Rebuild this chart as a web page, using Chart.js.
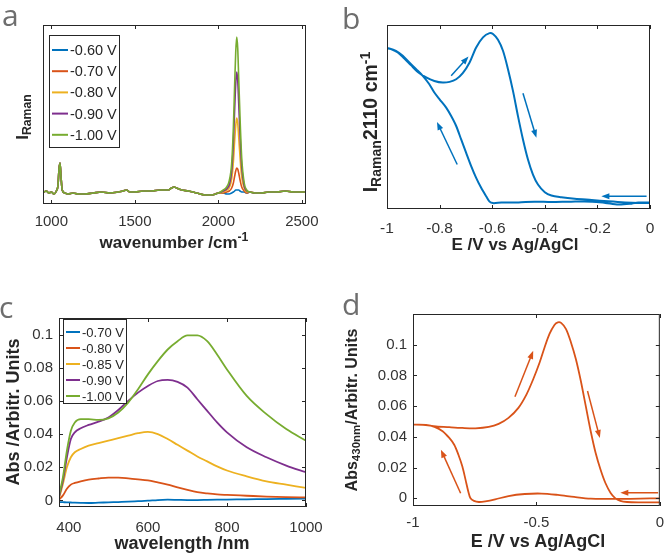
<!DOCTYPE html>
<html>
<head>
<meta charset="utf-8">
<script src="https://cdn.jsdelivr.net/npm/chart.js@4.4.1/dist/chart.umd.min.js"></script>
<style>
  body { margin: 0; background: #fff; }
  #fig { position: relative; width: 672px; height: 555px; overflow: hidden; font-family: "Liberation Sans", Arial, sans-serif; color: #262626; }
  canvas { position: absolute; }
  .lbl { position: absolute; font-family: "Open Sans", sans-serif; font-size: 30px; color: #6e6e6e; line-height: 1; }
  .ttl { position: absolute; font-weight: bold; white-space: nowrap; line-height: 1; transform: translate(-50%, -50%); }
  .ttl.rot { transform: translate(-50%, -50%) rotate(-90deg); }
  .ttl sub { font-size: 0.72em; vertical-align: -0.3em; line-height: 0; }
  .ttl sup { font-size: 0.72em; vertical-align: 0.5em; line-height: 0; }
</style>
</head>
<body>
<div id="fig">
  <canvas id="chartA" width="336" height="270" style="left:0;top:0"></canvas>
  <canvas id="chartB" width="336" height="270" style="left:336px;top:0"></canvas>
  <canvas id="chartC" width="336" height="265" style="left:0;top:290px"></canvas>
  <canvas id="chartD" width="336" height="265" style="left:336px;top:290px"></canvas>

  <div class="lbl" style="left:2px;top:0">a</div>
  <div class="lbl" style="left:342px;top:3px">b</div>
  <div class="lbl" style="left:-1px;top:292px">c</div>
  <div class="lbl" style="left:342px;top:289px">d</div>

  <div class="ttl" style="left:174px;top:242px;font-size:17px">wavenumber /cm<sup>-1</sup></div>
  <div class="ttl rot" style="left:22px;top:117px;font-size:17px">I<sub>Raman</sub></div>
  <div class="ttl" style="left:515px;top:244px;font-size:17px">E /V vs Ag/AgCl</div>
  <div class="ttl rot" style="left:371px;top:122px;font-size:19.5px">I<sub>Raman</sub>2110 cm<sup>-1</sup></div>
  <div class="ttl" style="left:182px;top:543px;font-size:18px">wavelength /nm</div>
  <div class="ttl rot" style="left:13px;top:412px;font-size:18px">Abs /Arbitr. Units</div>
  <div class="ttl" style="left:538px;top:541px;font-size:18px">E /V vs Ag/AgCl</div>
  <div class="ttl rot" style="left:352px;top:410px;font-size:16px">Abs<sub>430nm</sub>/Arbitr. Units</div>
</div>

<script>
// ---- panel a: Raman spectra ----
const aLabels = ['-0.60 V', '-0.70 V', '-0.80 V', '-0.90 V', '-1.00 V'];
const aWn = [955, 970, 985, 1000, 1015, 1030, 1040, 1046, 1052, 1058, 1065, 1080, 1100, 1130, 1160, 1200, 1250, 1300, 1350, 1400,
  1430, 1450, 1470, 1500, 1550, 1600, 1650, 1700, 1720, 1735, 1750, 1780, 1820, 1870, 1920, 1960, 2000,
  2030, 2050, 2065, 2080, 2090, 2098, 2104, 2110, 2116, 2122, 2130, 2140, 2155, 2170,
  2190, 2220, 2260, 2300, 2350, 2400, 2450, 2520];
const aI060 = [1, 2, 0, 1, -1, 2, 8, 24, 30, 16, 3, 0, -1, 0, -1, -1, 0, 1, 0, 1, 2, 3, 1, 1, 2, 2, 3, 3, 5, 6, 5, 3, 2, 0, -2, -2, 0,
  0, -1, -1, 0, 1, 2, 3, 3, 3, 3, 2, 1, 1, 0,
  1, 0, 0, 1, 1, 2, 1, 1];
const aI070 = [1, 2, 0, 1, -1, 2, 8, 24, 30, 16, 3, 0, -1, 0, -1, -1, 0, 1, 0, 1, 2, 3, 1, 1, 2, 2, 3, 3, 5, 6, 5, 3, 2, 0, -2, -2, 0,
  0, 1, 2, 5, 10, 17, 22, 25, 24, 20, 13, 6, 2, 0,
  1, 0, 0, 1, 1, 2, 1, 1];
const aI080 = [1, 2, 0, 1, -1, 2, 8, 24, 30, 16, 3, 0, -1, 0, -1, -1, 0, 1, 0, 1, 2, 3, 1, 1, 2, 2, 3, 3, 5, 6, 5, 3, 2, 0, -2, -2, 0,
  1, 3, 5, 14, 31, 53, 67, 75, 70, 56, 36, 16, 5, 1,
  1, 0, 0, 1, 1, 2, 1, 1];
const aI090 = [1, 2, 0, 1, -1, 2, 8, 24, 30, 16, 3, 0, -1, 0, -1, -1, 0, 1, 0, 1, 2, 3, 1, 1, 2, 2, 3, 3, 5, 6, 5, 3, 2, 0, -2, -2, 0,
  2, 4, 8, 22, 50, 85, 109, 121, 113, 90, 58, 26, 7, 2,
  1, 0, 0, 1, 1, 2, 1, 1];
const aI100 = [1, 2, 0, 1, -1, 2, 8, 24, 30, 16, 3, 0, -1, 0, -1, -1, 0, 1, 0, 1, 2, 3, 1, 1, 2, 2, 3, 3, 5, 6, 5, 3, 2, 0, -2, -2, 0,
  3, 6, 12, 30, 65, 110, 140, 156, 145, 115, 75, 35, 10, 3,
  1, 0, 0, 1, 1, 2, 1, 1];
const aXTicks = [1000, 1500, 2000, 2500];

// ---- panel b: Raman intensity at 2110 cm-1 vs potential ----
const bE = [0, -0.044, -0.07, -0.12, -0.17, -0.22, -0.30, -0.375, -0.44, -0.50, -0.565, -0.597, -0.61, -0.623, -0.642, -0.661,
  -0.680, -0.699, -0.718, -0.737, -0.756, -0.775, -0.80, -0.82, -0.839, -0.864, -0.889, -0.915, -0.94, -0.966, -0.991, -1.0,
  -0.985, -0.959, -0.934, -0.909, -0.883, -0.851, -0.82, -0.788, -0.762, -0.737, -0.712, -0.686, -0.661, -0.635, -0.61, -0.597,
  -0.578, -0.559, -0.54, -0.521, -0.502, -0.483, -0.464, -0.445, -0.426, -0.40, -0.375, -0.337, -0.286, -0.222, -0.159, -0.095, -0.044, 0];
const bI = [3.6, 3.5, 2.9, 2.4, 3.3, 4.0, 4.0, 3.8, 4.0, 3.6, 3.5, 3.2, 4.0, 6.9, 11.5, 16.9,
  23.3, 30.5, 37.8, 45.1, 50.5, 55.1, 59.6, 63.3, 67.8, 72.4, 76.0, 79.6, 83.3, 86.0, 87.3, 87.3,
  86.9, 85.1, 81.8, 78.2, 74.5, 71.5, 69.6, 68.7, 69.1, 70.5, 73.8, 79.6, 87.8, 93.3, 95.6, 95.1,
  92.0, 86.0, 76.0, 64.2, 50.5, 37.8, 26.9, 18.7, 13.3, 9.1, 7.3, 6.4, 5.6, 4.9, 4.2, 3.6, 3.3, 3.3];
const bArrowFromE = [-0.013, -0.756, -0.483, -0.733];
const bArrowFromI = [6.9, 72.4, 62.9, 24.2];
const bArrowToE = [-0.185, -0.69, -0.432, -0.81];
const bArrowToI = [6.9, 82.9, 38.7, 47.3];
const bXTicks = [-1, -0.8, -0.6, -0.4, -0.2, 0];

// ---- panel c: absorbance spectra ----
const cLabels = ['-0.70 V', '-0.80 V', '-0.85 V', '-0.90 V', '-1.00 V'];
const cWl = [375, 385, 395, 405, 415, 430, 450, 475, 500, 525, 550, 575, 600, 625, 650, 675, 700, 725, 750, 775, 800, 850, 900, 950, 1000];
const cA070 = [-0.001, -0.0011, -0.0012, -0.0013, -0.0014, -0.0015, -0.0016, -0.0014, -0.0012, -0.001, -0.0008, -0.0005, -0.0002,
  0.0002, 0.0004, 0.0003, 0.0002, 0.0002, 0.0003, 0.0004, 0.0005, 0.0006, 0.0008, 0.0009, 0.001];
const cA080 = [0.0005, 0.003, 0.007, 0.0095, 0.0105, 0.0115, 0.0125, 0.0132, 0.0137, 0.0137, 0.0133, 0.0127, 0.012,
  0.0108, 0.0095, 0.0078, 0.0063, 0.005, 0.0042, 0.0036, 0.0033, 0.0028, 0.0023, 0.002, 0.0018];
const cA085 = [0.001, 0.010, 0.020, 0.026, 0.029, 0.031, 0.033, 0.0345, 0.036, 0.0375, 0.039, 0.0405, 0.0413,
  0.040, 0.037, 0.0335, 0.030, 0.0265, 0.0235, 0.0205, 0.018, 0.0145, 0.0115, 0.0095, 0.0075];
const cA090 = [0.002, 0.012, 0.026, 0.037, 0.041, 0.0435, 0.0455, 0.0475, 0.050, 0.0545, 0.060, 0.065, 0.069,
  0.072, 0.0727, 0.0715, 0.068, 0.061, 0.054, 0.047, 0.041, 0.032, 0.026, 0.021, 0.017];
const cA100 = [0.003, 0.014, 0.030, 0.042, 0.047, 0.049, 0.049, 0.0485, 0.0495, 0.053, 0.059, 0.067, 0.076,
  0.084, 0.091, 0.096, 0.0995, 0.0995, 0.096, 0.088, 0.079, 0.063, 0.052, 0.043, 0.036];
const cXTicks = [400, 600, 800, 1000];
const cYTicks = [0, 0.02, 0.04, 0.06, 0.08, 0.1];

// ---- panel d: absorbance at 430 nm vs potential ----
const dE = [0, -0.08, -0.16, -0.213, -0.28, -0.347, -0.413, -0.48, -0.547, -0.613, -0.667, -0.707, -0.733, -0.753, -0.767,
  -0.776, -0.787, -0.80, -0.816, -0.833, -0.853, -0.88, -0.913, -0.947, -0.987, -1.0,
  -0.96, -0.907, -0.853, -0.80, -0.747, -0.693, -0.653, -0.613, -0.573, -0.54, -0.513, -0.487, -0.467, -0.447, -0.427,
  -0.413, -0.40, -0.38, -0.36, -0.34, -0.32, -0.30, -0.28, -0.26, -0.24, -0.22, -0.20, -0.18, -0.16, -0.133, -0.08, 0];
const dA = [0, -0.0002, -0.0004, -0.0004, -0.0002, 0.0009, 0.0022, 0.0031, 0.0028, 0.0015, -0.0007, -0.002, -0.0024, -0.0017, 0,
  0.0044, 0.012, 0.0207, 0.0284, 0.0349, 0.0393, 0.0437, 0.0465, 0.0478, 0.048, 0.048,
  0.0478, 0.0469, 0.0463, 0.0458, 0.0456, 0.0465, 0.0485, 0.0524, 0.0589, 0.0677, 0.0775, 0.0884, 0.0982, 0.107, 0.1129,
  0.1146, 0.1142, 0.1102, 0.1015, 0.0906, 0.0764, 0.060, 0.0437, 0.0295, 0.0186, 0.0098, 0.0037, 0, -0.0017, -0.0024, -0.0026, -0.0026];
const dArrowFromE = [-0.007, -0.807, -0.587, -0.293];
const dArrowFromA = [0.0037, 0.0033, 0.0661, 0.0699];
const dArrowToE = [-0.16, -0.887, -0.513, -0.243];
const dArrowToA = [0.0037, 0.0317, 0.096, 0.0393];
const dXTicks = [-1, -0.5, 0];
const dYTicks = [0, 0.02, 0.04, 0.06, 0.08, 0.1];

// MATLAB default colour order
const colors = ['#0072BD', '#D95319', '#EDB120', '#7E2F8E', '#77AC30'];
const AXIS = '#262626';

function pts(xs, ys) {
  return xs.map((v, i) => ({ x: v, y: ys[i] }));
}

function arrows(x0, y0, x1, y1) {
  return x0.map((v, i) => [v, y0[i], x1[i], y1[i]]);
}

// box around the axes, inward ticks on all sides, legend and arrows
const framePlugin = {
  id: 'frame',
  afterDatasetsDraw(chart, args, o) {
    const { ctx, chartArea: ca, scales } = chart;
    const sx = scales.x, sy = scales.y;
    ctx.save();

    (o.arrows || []).forEach(a => {
      const x0 = sx.getPixelForValue(a[0]), y0 = sy.getPixelForValue(a[1]);
      const x1 = sx.getPixelForValue(a[2]), y1 = sy.getPixelForValue(a[3]);
      const ang = Math.atan2(y1 - y0, x1 - x0);
      const c = Math.cos(ang), s = Math.sin(ang);
      ctx.strokeStyle = o.arrowColor;
      ctx.fillStyle = o.arrowColor;
      ctx.lineWidth = 1.5;
      ctx.beginPath();
      ctx.moveTo(x0, y0);
      ctx.lineTo(x1 - 5 * c, y1 - 5 * s);
      ctx.stroke();
      ctx.beginPath();
      ctx.moveTo(x1, y1);
      ctx.lineTo(x1 - 8 * c + 3 * s, y1 - 8 * s - 3 * c);
      ctx.lineTo(x1 - 8 * c - 3 * s, y1 - 8 * s + 3 * c);
      ctx.closePath();
      ctx.fill();
    });

    ctx.strokeStyle = AXIS;
    ctx.lineWidth = 1;
    ctx.strokeRect(ca.left + 0.5, ca.top + 0.5, ca.right - ca.left - 1, ca.bottom - ca.top - 1);
    const len = 4;
    ctx.beginPath();
    if (o.xTicks) {
      sx.ticks.forEach(t => {
        const px = Math.round(sx.getPixelForValue(t.value)) + 0.5;
        ctx.moveTo(px, ca.bottom); ctx.lineTo(px, ca.bottom - len);
        ctx.moveTo(px, ca.top); ctx.lineTo(px, ca.top + len);
      });
    }
    if (o.yTicks) {
      sy.ticks.forEach(t => {
        const py = Math.round(sy.getPixelForValue(t.value)) + 0.5;
        ctx.moveTo(ca.left, py); ctx.lineTo(ca.left + len, py);
        ctx.moveTo(ca.right, py); ctx.lineTo(ca.right - len, py);
      });
    }
    ctx.stroke();

    if (o.legend) {
      const L = o.legend;
      ctx.fillStyle = '#fff';
      ctx.fillRect(L.x, L.y, L.w, L.h);
      ctx.strokeStyle = AXIS;
      ctx.lineWidth = 1;
      ctx.strokeRect(L.x + 0.5, L.y + 0.5, L.w, L.h);
      ctx.font = L.size + 'px "Liberation Sans", Arial, sans-serif';
      ctx.textBaseline = 'middle';
      ctx.textAlign = 'left';
      chart.data.datasets.forEach((ds, i) => {
        const cy = L.first + i * L.step;
        ctx.strokeStyle = ds.borderColor;
        ctx.lineWidth = 2;
        ctx.beginPath();
        ctx.moveTo(L.x0, cy);
        ctx.lineTo(L.x1, cy);
        ctx.stroke();
        ctx.fillStyle = AXIS;
        ctx.fillText(ds.label, L.tx, cy + 1);
      });
    }
    ctx.restore();
  }
};

function xAxis(min, max, ticks, h, pad, size) {
  return {
    type: 'linear', position: 'bottom', min: min, max: max,
    grid: { display: false, drawTicks: false }, border: { display: false },
    afterBuildTicks: s => { s.ticks = ticks.map(v => ({ value: v })); },
    afterFit: s => { s.height = h; },
    ticks: { padding: pad, color: '#333', autoSkip: false, maxRotation: 0,
      font: { family: '"Liberation Sans", Arial, sans-serif', size: size }, callback: v => String(v) }
  };
}

function yAxis(min, max, ticks, w, showLabels, size) {
  return {
    type: 'linear', position: 'left', min: min, max: max,
    grid: { display: false, drawTicks: false }, border: { display: false },
    afterBuildTicks: s => { s.ticks = ticks.map(v => ({ value: v })); },
    afterFit: s => { s.width = w; },
    ticks: { display: showLabels, padding: 6, color: '#333', autoSkip: false,
      font: { family: '"Liberation Sans", Arial, sans-serif', size: size || 14 }, callback: v => String(v) }
  };
}

function baseOptions(pad, frame, x, y) {
  return {
    responsive: false, animation: false, devicePixelRatio: 1,
    layout: { padding: { top: pad.top, right: pad.right, left: 0, bottom: 0 } },
    plugins: { legend: { display: false }, tooltip: { enabled: false }, frame: frame },
    elements: { point: { radius: 0 } },
    scales: { x: x, y: y }
  };
}

function series(labels, xs, ys, width, smooth) {
  return ys.map((arr, i) => ({
    label: labels[i],
    data: pts(xs, arr),
    borderColor: colors[i],
    borderWidth: width,
    cubicInterpolationMode: smooth,
    fill: false,
    order: ys.length - 1 - i
  }));
}

// panel a
new Chart(document.getElementById('chartA'), {
  type: 'line',
  plugins: [framePlugin],
  data: { datasets: series(aLabels, aWn, [aI060, aI070, aI080, aI090, aI100], 1.6, 'monotone') },
  options: baseOptions({ top: 25, right: 30 },
    { xTicks: true, yTicks: false,
      legend: { x: 49, y: 35, w: 70, h: 112, first: 50, step: 21.2, x0: 52, x1: 68, tx: 70, size: 14.5 } },
    xAxis(950, 2525, aXTicks, 66, 9, 15),
    yAxis(-11, 168, [], 43, false))
});

// panel b
new Chart(document.getElementById('chartB'), {
  type: 'line',
  plugins: [framePlugin],
  data: { datasets: [{ label: 'I2110', data: pts(bE, bI), borderColor: colors[0], borderWidth: 2, tension: 0.3, fill: false }] },
  options: baseOptions({ top: 25, right: 22 },
    { xTicks: true, yTicks: false, arrowColor: colors[0],
      arrows: arrows(bArrowFromE, bArrowFromI, bArrowToE, bArrowToI) },
    xAxis(-1, 0, bXTicks, 61, 10, 15.5),
    yAxis(0, 100, [], 51, false))
});

// panel c
new Chart(document.getElementById('chartC'), {
  type: 'line',
  plugins: [framePlugin],
  data: { datasets: series(cLabels, cWl, [cA070, cA080, cA085, cA090, cA100], 1.8, 'monotone') },
  options: baseOptions({ top: 28, right: 30 },
    { xTicks: true, yTicks: true,
      legend: { x: 63, y: 29, w: 63, h: 84, first: 42, step: 16, x0: 66, x1: 80, tx: 82, size: 13 } },
    xAxis(375, 1000, cXTicks, 48, 12, 15),
    yAxis(-0.004, 0.11, cYTicks, 59, true, 15))
});

// panel d
new Chart(document.getElementById('chartD'), {
  type: 'line',
  plugins: [framePlugin],
  data: { datasets: [{ label: 'A430', data: pts(dE, dA), borderColor: colors[1], borderWidth: 1.8, tension: 0.3, fill: false }] },
  options: baseOptions({ top: 24, right: 9 },
    { xTicks: true, yTicks: true, arrowColor: colors[1],
      arrows: arrows(dArrowFromE, dArrowFromA, dArrowToE, dArrowToA) },
    xAxis(-1, 0, dXTicks, 49, 8, 15),
    yAxis(-0.005, 0.12, dYTicks, 77, true, 15))
});
</script>
</body>
</html>
